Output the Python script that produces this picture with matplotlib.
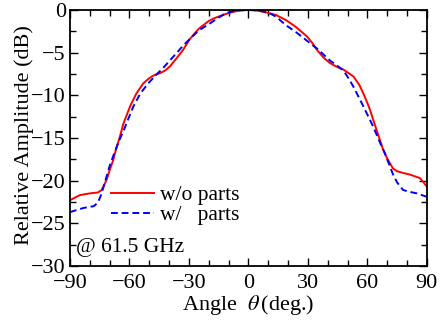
import matplotlib
matplotlib.use("Agg")
import matplotlib.pyplot as plt
from matplotlib.ticker import MultipleLocator

plt.rcParams['font.family'] = ['Liberation Serif', 'DejaVu Serif']
plt.rcParams['mathtext.fontset'] = 'stix'

# w/o parts (red solid)
angle_wo = [-90, -85, -80, -76, -74, -71.5, -70, -68.2, -66.5, -65, -63, -61, -59.5,
            -56.5, -53, -50, -48, -44.5, -42, -39.5, -36, -33, -29.5, -25, -20,
            -17.5, -13, -9, -5, 0, 5, 9, 14, 19, 24, 29.5, 32, 35, 38, 41, 44, 48,
            53, 56, 58, 60, 61.5, 63, 65, 68, 70, 71.5, 73, 75, 78, 81.5, 84,
            86.5, 88, 90]
amp_wo = [-22.3, -21.7, -21.5, -21.4, -21.1, -19.9, -18.8, -17.6, -16.1, -15.0, -13.3,
          -12.1, -11.2, -9.8, -8.6, -8.0, -7.7, -7.4, -7.1, -6.6, -5.6, -4.7,
          -3.4, -2.2, -1.3, -1.0, -0.6, -0.3, -0.1, 0.0, -0.1, -0.3, -0.6, -1.2,
          -2.0, -3.1, -3.8, -4.8, -5.6, -6.2, -6.6, -7.0, -7.8, -8.8, -9.8,
          -10.9, -11.8, -12.9, -14.3, -16.4, -17.4, -18.0, -18.6, -18.9, -19.1,
          -19.3, -19.5, -19.7, -20.1, -20.7]

# w/ parts (blue dashed)
angle_w = [-90, -86, -83, -78, -76, -74.5, -73, -71.5, -70, -67.5, -65, -63, -61.5,
           -58, -54.5, -50.5, -46.5, -43, -39.5, -36, -33, -29.5, -25, -19.5,
           -15, -11, -6, 0, 5, 10, 14, 19, 24, 29.5, 35, 41, 44, 48, 51, 53, 58,
           63, 66.5, 68.5, 71.5, 73, 75, 78, 81, 85, 90]
amp_w = [-23.7, -23.4, -23.2, -23.0, -22.6, -21.8, -20.7, -19.5, -18.3, -16.7, -15.2,
         -14.2, -13.3, -11.3, -9.8, -8.6, -7.6, -6.8, -5.9, -5.0, -4.2, -3.4,
         -2.4, -1.6, -0.9, -0.35, -0.05, 0.0, -0.05, -0.3, -0.8, -1.8, -2.6,
         -3.6, -4.6, -5.9, -6.4, -7.1, -8.2, -9.0, -11.3, -13.7, -15.6, -16.6,
         -18.4, -19.3, -20.2, -21.1, -21.3, -21.5, -21.9]

fig = plt.figure(figsize=(4.4, 3.2), dpi=100)
ax = fig.add_axes([0.159, 0.169, 0.811, 0.8])

ax.plot(angle_wo, amp_wo, color='red', lw=1.4, label='w/o parts')
ax.plot(angle_w, amp_w, color='blue', lw=1.4, ls=(0, (3.5, 2)), label='w/   parts')

ax.set_xlim(-90, 90)
ax.set_ylim(-30, 0)
ax.xaxis.set_major_locator(MultipleLocator(30))
ax.xaxis.set_minor_locator(MultipleLocator(10))
ax.yaxis.set_major_locator(MultipleLocator(5))
ax.yaxis.set_minor_locator(MultipleLocator(2.5))
ax.tick_params(which='both', direction='in', top=True, right=True, labelsize=16, width=1.0)
ax.tick_params(which='major', length=6)
ax.tick_params(which='minor', length=4)
ax.tick_params(axis='x', which='major', pad=6)
ax.tick_params(axis='y', which='major', pad=3)
for s in ax.spines.values():
    s.set_linewidth(1.3)

ax.set_xlabel(r'Angle  $\theta\,$(deg.)', fontsize=16, labelpad=0)
ax.set_ylabel('Relative Amplitude (dB)', fontsize=16)
ax.yaxis.set_label_coords(-0.102, 0.51)

ax.legend(loc='lower left', bbox_to_anchor=(0.09, 0.125), frameon=False, fontsize=15.5,
          handlelength=2.0, handletextpad=0.3, labelspacing=0.0, borderaxespad=0)
ax.text(-87, -27.8, '@ 61.5 GHz', fontsize=15.5, va='center', ha='left')

fig.savefig('out.png', dpi=100)
